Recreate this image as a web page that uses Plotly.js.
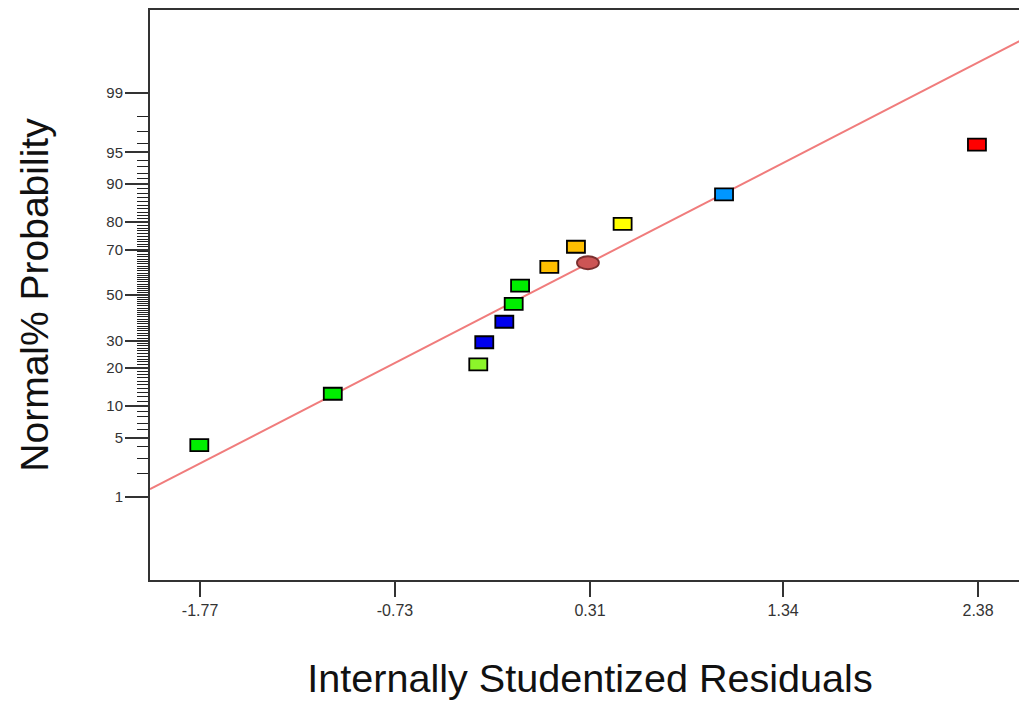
<!DOCTYPE html>
<html>
<head>
<meta charset="utf-8">
<script src="https://cdn.plot.ly/plotly-3.0.1.min.js"></script>
<style>
html, body { margin: 0; padding: 0; overflow: hidden; background: #ffffff; }
#chart { width: 1030px; height: 704px; }
</style>
</head>
<body>
<div id="chart"></div>
<script>
// ---- data ----
const residuals = [-1.774, -1.062, -0.286, -0.254, -0.147, -0.097, -0.063, 0.093, 0.299, 0.235, 0.484, 1.025, 2.374];
const probability = [4.18, 12.75, 21.2, 29.3, 37.9, 45.9, 54.3, 62.7, 64.5, 71.1, 79.4, 87.7, 95.85];
const pointColors = ['#00ee00', '#00ee00', '#8cf52a', '#0000ee', '#0000ee', '#00ee00', '#00ee00', '#ffbf00', '#cc5555', '#ffbf00', '#ffff00', '#0096ff', '#ff0000'];
const pointShapes = ['rect', 'rect', 'rect', 'rect', 'rect', 'rect', 'rect', 'rect', 'circle', 'rect', 'rect', 'rect', 'rect'];

const lineX = [-2.037, 2.657];
const lineP = [1.26, 99.86];

const xTickVals = [-1.77, -0.73, 0.31, 1.34, 2.38];
const xTickText = ['-1.77', '-0.73', '0.31', '1.34', '2.38'];
const yTickPercents = [1, 5, 10, 20, 30, 50, 70, 80, 90, 95, 99];
const yTickText = ['1', '5', '10', '20', '30', '50', '70', '80', '90', '95', '99'];

const xRange = [-2.037, 2.657];
const yRangeZ = [-3.285, 3.285];

// ---- inverse standard normal (probit) ----
function probit(p) {
  const a = [-3.969683028665376e+01, 2.209460984245205e+02, -2.759285104469687e+02, 1.383577518672690e+02, -3.066479806614716e+01, 2.506628277459239e+00];
  const b = [-5.447609879822406e+01, 1.615858368580409e+02, -1.556989798598866e+02, 6.680131188771972e+01, -1.328068155288572e+01];
  const c = [-7.784894002430293e-03, -3.223964580411365e-01, -2.400758277161838e+00, -2.549732539343734e+00, 4.374664141464968e+00, 2.938163982698783e+00];
  const d = [7.784695709041462e-03, 3.224671290700398e-01, 2.445134137142996e+00, 3.754408661907416e+00];
  const pl = 0.02425, ph = 1 - pl;
  let q, r;
  if (p < pl) {
    q = Math.sqrt(-2 * Math.log(p));
    return (((((c[0]*q+c[1])*q+c[2])*q+c[3])*q+c[4])*q+c[5]) / ((((d[0]*q+d[1])*q+d[2])*q+d[3])*q+1);
  } else if (p <= ph) {
    q = p - 0.5; r = q * q;
    return (((((a[0]*r+a[1])*r+a[2])*r+a[3])*r+a[4])*r+a[5])*q / (((((b[0]*r+b[1])*r+b[2])*r+b[3])*r+b[4])*r+1);
  } else {
    q = Math.sqrt(-2 * Math.log(1 - p));
    return -(((((c[0]*q+c[1])*q+c[2])*q+c[3])*q+c[4])*q+c[5]) / ((((d[0]*q+d[1])*q+d[2])*q+d[3])*q+1);
  }
}
const z = pct => probit(pct / 100);

const pointZ = probability.map(z);
const lineZ = lineP.map(z);
const yTickVals = yTickPercents.map(z);
const minorVals = [];
for (let k = 2; k <= 98; k++) { if (yTickPercents.indexOf(k) < 0) minorVals.push(z(k)); }

const traces = [
  {
    x: lineX, y: lineZ, type: 'scatter', mode: 'lines',
    line: { color: '#f07c7c', width: 2 }, hoverinfo: 'skip', showlegend: false
  },
  {
    x: residuals, y: pointZ, type: 'scatter', mode: 'markers',
    marker: { size: 12, opacity: 0 },
    customdata: probability,
    hovertemplate: 'Residual: %{x}<br>Probability: %{customdata}%<extra></extra>',
    showlegend: false
  }
];

const shapes = residuals.map((xv, i) => {
  const isEllipse = pointShapes[i] === 'circle';
  return {
    type: isEllipse ? 'circle' : 'rect',
    xref: 'x', yref: 'y',
    xsizemode: 'pixel', ysizemode: 'pixel',
    xanchor: xv, yanchor: pointZ[i],
    x0: isEllipse ? -11 : -9, x1: isEllipse ? 11 : 9,
    y0: isEllipse ? -6.5 : -6, y1: isEllipse ? 6.5 : 6,
    fillcolor: pointColors[i],
    line: { color: isEllipse ? '#7a2f2f' : '#000000', width: 1.8 },
    layer: 'above'
  };
});

const font = '"Liberation Sans", Arial, sans-serif';

const layout = {
  width: 1030, height: 704,
  margin: { l: 150, r: 0, t: 10, b: 124 },
  paper_bgcolor: '#ffffff', plot_bgcolor: '#ffffff',
  font: { family: font, color: '#222222' },
  showlegend: false,
  shapes: shapes,
  xaxis: {
    range: xRange,
    tickmode: 'array', tickvals: xTickVals, ticktext: xTickText,
    ticks: 'outside', ticklen: 15, tickwidth: 1.5, tickcolor: '#333333',
    tickfont: { family: font, size: 16, color: '#333333' },
    showgrid: false, zeroline: false,
    showline: true, linecolor: '#333333', linewidth: 2, mirror: true,
    title: { text: 'Internally Studentized Residuals', font: { family: font, size: 39.6, color: '#111111' }, standoff: 46 }
  },
  yaxis: {
    range: yRangeZ,
    tickmode: 'array', tickvals: yTickVals, ticktext: yTickText,
    ticks: 'outside', ticklen: 23, tickwidth: 1.5, tickcolor: '#333333',
    ticklabelstandoff: -1,
    tickfont: { family: font, size: 15, color: '#333333' },
    minor: { tickmode: 'array', tickvals: minorVals, ticks: 'outside', ticklen: 11, tickwidth: 1, tickcolor: '#222222', showgrid: false },
    showgrid: false, zeroline: false,
    showline: true, linecolor: '#333333', linewidth: 2, mirror: true,
    title: { text: 'Normal% Probability', font: { family: font, size: 39, color: '#111111' }, standoff: 46 }
  }
};

Plotly.newPlot('chart', traces, layout, { displayModeBar: false, staticPlot: false });
</script>
</body>
</html>
